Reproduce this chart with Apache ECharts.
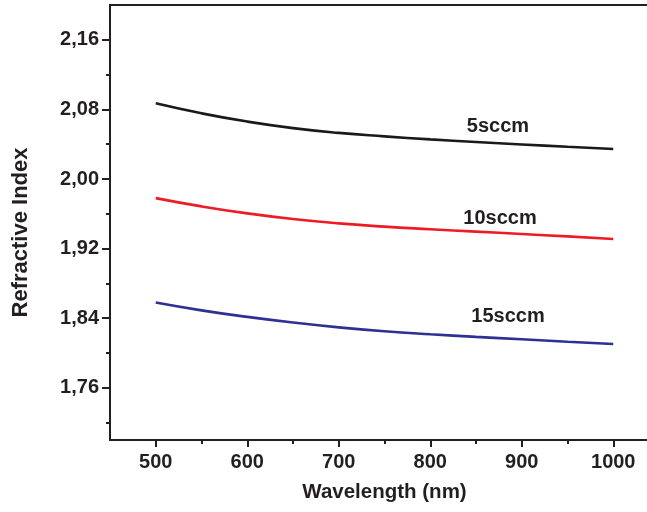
<!DOCTYPE html>
<html>
<head>
<meta charset="utf-8">
<title>Refractive Index vs Wavelength</title>
<script src="https://cdn.jsdelivr.net/npm/echarts@6/dist/echarts.min.js"></script>
<style>
  html, body { margin: 0; padding: 0; background: #fff; }
  #chart { width: 647px; height: 512px; }
</style>
</head>
<body>
<div id="chart"></div>
<script>
// Wavelength samples (nm)
const wavelengths = [500, 550, 600, 650, 700, 750, 800, 850, 900, 950, 1000];

// Refractive index for each N2 flow rate
const n5sccm  = [2.0870, 2.0755, 2.0660, 2.0585, 2.0530, 2.0490, 2.0455, 2.0425, 2.0397, 2.0370, 2.0345];
const n10sccm = [1.9780, 1.9685, 1.9605, 1.9540, 1.9490, 1.9453, 1.9423, 1.9395, 1.9368, 1.9340, 1.9310];
const n15sccm = [1.8580, 1.8490, 1.8415, 1.8350, 1.8295, 1.8250, 1.8215, 1.8185, 1.8158, 1.8130, 1.8104];

// Axis ticks
const xMajorTicks = [500, 600, 700, 800, 900, 1000];
const xMinorTicks = [550, 650, 750, 850, 950];
const yMajorTicks = [1.76, 1.84, 1.92, 2.00, 2.08, 2.16];
const yMinorTicks = [1.72, 1.80, 1.88, 1.96, 2.04, 2.12];

const seriesLabels = ['5sccm', '10sccm', '15sccm'];
const labelAt = 850;           // wavelength where each curve is annotated
const labelOffsets = [[22, -16], [24, -13], [32, -20]];

const FONT = '"Liberation Sans", Arial, Helvetica, sans-serif';
const INK = '#231f20';
const AXIS = { lineStyle: { color: INK, width: 2 } };

function buildData(values, idx) {
  return wavelengths.map((w, i) => {
    const item = { value: [w, values[i]] };
    if (w === labelAt) {
      item.label = {
        show: true,
        position: 'inside',
        offset: labelOffsets[idx],
        formatter: seriesLabels[idx],
        color: INK,
        fontFamily: FONT,
        fontWeight: 'bold',
        fontSize: 20
      };
    }
    return item;
  });
}

const chart = echarts.init(document.getElementById('chart'), null, { renderer: 'canvas' });

const commaFmt = v => v.toFixed(2).replace('.', ',');
const plainFmt = v => String(Math.round(v));

chart.setOption({
  animation: false,
  backgroundColor: '#fff',
  grid: {
    left: 110, top: 5, right: -12, bottom: 72,
    containLabel: false,
    outerBoundsMode: 'none',
    show: false
  },
  xAxis: [
    {
      type: 'value', min: 450, max: 1050,
      position: 'bottom',
      axisLine: { show: true, onZero: false, ...AXIS },
      axisTick: { show: true, inside: false, length: 7, lineStyle: { color: INK, width: 2 }, customValues: xMajorTicks },
      axisLabel: {
        customValues: xMajorTicks, margin: 12, formatter: plainFmt,
        color: INK, fontFamily: FONT, fontWeight: 'bold', fontSize: 20
      },
      splitLine: { show: false },
      name: 'Wavelength (nm)',
      nameLocation: 'middle',
      nameGap: 42,
      nameTextStyle: { color: INK, fontFamily: FONT, fontWeight: 'bold', fontSize: 20.5 }
    },
    {
      // short minor ticks between labelled wavelengths
      type: 'value', min: 450, max: 1050,
      position: 'bottom',
      axisLine: { show: false, onZero: false },
      axisTick: { show: true, inside: false, length: 4, lineStyle: { color: INK, width: 2 }, customValues: xMinorTicks },
      axisLabel: { show: false },
      splitLine: { show: false }
    },
    {
      // plain frame line along the top
      type: 'value', min: 450, max: 1050,
      position: 'top',
      axisLine: { show: true, onZero: false, ...AXIS },
      axisTick: { show: false },
      axisLabel: { show: false },
      splitLine: { show: false }
    }
  ],
  yAxis: [
    {
      type: 'value', min: 1.70, max: 2.20,
      position: 'left',
      axisLine: { show: true, onZero: false, ...AXIS },
      axisTick: { show: true, inside: false, length: 8, lineStyle: { color: INK, width: 2 }, customValues: yMajorTicks },
      axisLabel: {
        customValues: yMajorTicks, margin: 11, formatter: commaFmt,
        color: INK, fontFamily: FONT, fontWeight: 'bold', fontSize: 20
      },
      splitLine: { show: false },
      name: 'Refractive Index',
      nameLocation: 'middle',
      nameGap: 78,
      nameRotate: 90,
      nameTextStyle: {
        color: INK, fontFamily: FONT, fontWeight: 'bold', fontSize: 22,
        padding: [0, 20, 0, 0]
      }
    },
    {
      type: 'value', min: 1.70, max: 2.20,
      position: 'left',
      axisLine: { show: false, onZero: false },
      axisTick: { show: true, inside: false, length: 4, lineStyle: { color: INK, width: 2 }, customValues: yMinorTicks },
      axisLabel: { show: false },
      splitLine: { show: false }
    }
  ],
  series: [
    { name: seriesLabels[0], data: buildData(n5sccm, 0),  color: '#1a1a1a' },
    { name: seriesLabels[1], data: buildData(n10sccm, 1), color: '#ed1c24' },
    { name: seriesLabels[2], data: buildData(n15sccm, 2), color: '#2e3192' }
  ].map(s => ({
    type: 'line',
    name: s.name,
    data: s.data,
    smooth: 0.5,
    symbol: 'circle',
    symbolSize: 0,
    showSymbol: true,
    showAllSymbol: true,
    lineStyle: { color: s.color, width: 2.6 },
    itemStyle: { color: s.color },
    xAxisIndex: 0,
    yAxisIndex: 0
  }))
});
</script>
</body>
</html>
